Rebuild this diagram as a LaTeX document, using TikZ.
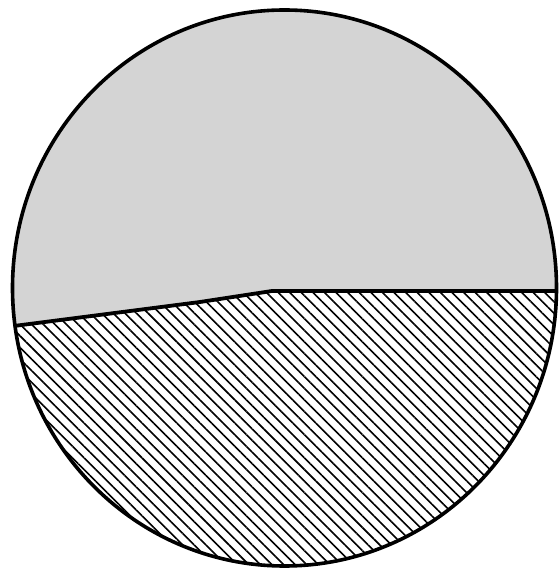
\documentclass[tikz,border=0pt]{standalone}
\usetikzlibrary{patterns.meta}

\begin{document}
\begin{tikzpicture}[
    x=1pt, y=1pt,
    rim/.style={draw, line width=3.6pt},
    split/.style={draw, line width=3.8pt, line join=round},
    upper/.style={fill=black!17},
    lower/.style={pattern={Lines[angle=-45, distance=8.2pt, line width=1.6pt]}}
]
  \useasboundingbox (0,0) rectangle (558,571);

  \coordinate (centre) at (284.5,283);
  \coordinate (west) at (10,244.5);
  \coordinate (bend) at (200,269);
  \coordinate (kink) at (272,280);
  \coordinate (east) at (570,280);

  % the two parts, clipped to the disc
  \begin{scope}
    \clip (centre) ellipse [x radius=272pt, y radius=278pt];
    \fill[upper] (west) -- (bend) -- (kink) -- (east) -- (570,575) -- (0,575) -- cycle;
    \fill[lower] (west) -- (bend) -- (kink) -- (east) -- (570,-5) -- (0,-5) -- cycle;
    \draw[split] (west) -- (bend) -- (kink) -- (east);
  \end{scope}

  \draw[rim] (centre) ellipse [x radius=272pt, y radius=278pt];
\end{tikzpicture}
\end{document}
